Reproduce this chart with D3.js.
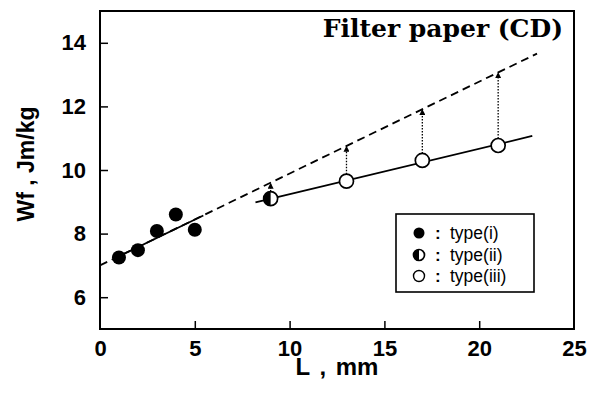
<!DOCTYPE html>
<html lang="en">
<head>
  <meta charset="UTF-8">
  <title>Wf vs L</title>
  <style>
    body { margin: 0; background: #fff; }
    text { fill: #000; }
  </style>
</head>
<body>
  <div class="chart"></div>
  <script src="https://cdnjs.cloudflare.com/ajax/libs/d3/7.8.5/d3.min.js"></script>
  <script>
    // data
    const typeI_L = [1, 2, 3, 4, 5];
    const typeI_Wf = [7.25, 7.48, 8.08, 8.6, 8.12];
    const typeII_L = [9];
    const typeII_Wf = [9.1];
    const typeIII_L = [13, 17, 21];
    const typeIII_Wf = [9.65, 10.3, 10.77];

    // fitted lines (end points)
    const fitDashed = [[0, 7.0], [23.05, 13.66]];
    const fitSolidLow = [[0.8, 7.23], [5.45, 8.57]];
    const fitSolidHigh = [[8.2, 8.98], [22.8, 11.07]];

    // arrows: from the open circle up to the dashed line
    const arrowL = [9, 13, 17, 21];
    const arrowFrom = [9.1, 9.65, 10.3, 10.77];
    const arrowTo = [9.6, 10.76, 11.92, 13.08];

    const xTicks = [0, 5, 10, 15, 20, 25];
    const yTicks = [6, 8, 10, 12, 14];
    const legendLabels = ['type(i)', 'type(ii)', 'type(iii)'];

    const width = 605, height = 407;
    const margin = { top: 11, right: 31, bottom: 78, left: 100 };

    const x = d3.scaleLinear().domain([0, 25]).range([margin.left, width - margin.right]);
    const y = d3.scaleLinear().domain([5, 15]).range([height - margin.bottom, margin.top]);

    const svg = d3.select('.chart').append('svg')
      .attr('width', width)
      .attr('height', height);

    svg.append('defs').append('marker')
      .attr('id', 'head')
      .attr('viewBox', '0 0 10 10')
      .attr('refX', 10).attr('refY', 5)
      .attr('markerWidth', 8).attr('markerHeight', 6)
      .attr('markerUnits', 'userSpaceOnUse')
      .attr('orient', 'auto')
      .append('path').attr('d', 'M0,0L10,5L0,10Z').attr('fill', '#000');

    // axes, ticks inward
    const xAxis = svg.append('g')
      .attr('transform', `translate(0,${y(5)})`)
      .call(d3.axisBottom(x).tickValues(xTicks).tickSize(-8).tickPadding(11));
    const yAxis = svg.append('g')
      .attr('transform', `translate(${x(0)},0)`)
      .call(d3.axisLeft(y).tickValues(yTicks).tickSize(-8).tickPadding(14));

    [xAxis, yAxis].forEach(g => {
      g.select('.domain').remove();
      g.selectAll('line').attr('stroke', '#000').attr('stroke-width', 1.5);
      g.selectAll('text')
        .attr('font-family', 'Liberation Sans, Arial, sans-serif')
        .attr('font-weight', 'bold')
        .attr('font-size', 22);
    });
    xAxis.selectAll('.tick').filter(d => d === 0 || d === 25).select('line').remove();

    // frame
    svg.append('rect')
      .attr('x', x(0)).attr('y', y(15))
      .attr('width', x(25) - x(0)).attr('height', y(5) - y(15))
      .attr('fill', 'none').attr('stroke', '#000').attr('stroke-width', 2);

    const line = d3.line().x(d => x(d[0])).y(d => y(d[1]));

    svg.append('path').datum(fitDashed).attr('d', line)
      .attr('fill', 'none').attr('stroke', '#000').attr('stroke-width', 1.8)
      .attr('stroke-dasharray', '8,5');
    svg.append('path').datum(fitSolidLow).attr('d', line)
      .attr('fill', 'none').attr('stroke', '#000').attr('stroke-width', 1.8);
    svg.append('path').datum(fitSolidHigh).attr('d', line)
      .attr('fill', 'none').attr('stroke', '#000').attr('stroke-width', 1.8);

    // dotted arrows
    svg.selectAll('.arrow').data(arrowL).join('line')
      .attr('class', 'arrow')
      .attr('x1', d => x(d)).attr('x2', d => x(d))
      .attr('y1', (d, i) => y(arrowFrom[i]) - 7)
      .attr('y2', (d, i) => y(arrowTo[i]))
      .attr('stroke', '#000').attr('stroke-width', 1.3)
      .attr('stroke-dasharray', '1.5,1.5')
      .attr('marker-end', 'url(#head)');

    const r = 7;
    // type(i)
    svg.selectAll('.t1').data(typeI_L).join('circle')
      .attr('class', 't1')
      .attr('cx', d => x(d)).attr('cy', (d, i) => y(typeI_Wf[i]))
      .attr('r', r).attr('fill', '#000');

    // half-filled marker
    function halfCircle(g, cx, cy, rr) {
      g.append('circle').attr('cx', cx).attr('cy', cy).attr('r', rr)
        .attr('fill', '#fff').attr('stroke', '#000').attr('stroke-width', 1.7);
      g.append('path')
        .attr('d', `M${cx},${cy - rr}A${rr},${rr} 0 0 0 ${cx},${cy + rr}Z`)
        .attr('fill', '#000');
    }
    typeII_L.forEach((d, i) => halfCircle(svg, x(d), y(typeII_Wf[i]), r));

    // type(iii)
    svg.selectAll('.t3').data(typeIII_L).join('circle')
      .attr('class', 't3')
      .attr('cx', d => x(d)).attr('cy', (d, i) => y(typeIII_Wf[i]))
      .attr('r', r).attr('fill', '#fff').attr('stroke', '#000').attr('stroke-width', 1.7);

    // title
    svg.append('text')
      .attr('x', 563).attr('y', 37)
      .attr('text-anchor', 'end')
      .attr('font-family', 'DejaVu Serif, serif')
      .attr('font-weight', 'bold')
      .attr('font-size', 25)
      .text('Filter paper (CD)');

    // axis titles
    svg.append('text')
      .attr('x', (x(0) + x(25)) / 2).attr('y', 375)
      .attr('text-anchor', 'middle')
      .attr('font-family', 'Liberation Sans, Arial, sans-serif')
      .attr('font-weight', 'bold').attr('font-size', 24)
      .attr('word-spacing', 3)
      .text('L , mm');
    svg.append('text')
      .attr('transform', 'translate(34,164) rotate(-90)')
      .attr('text-anchor', 'middle')
      .attr('font-family', 'Liberation Sans, Arial, sans-serif')
      .attr('font-weight', 'bold').attr('font-size', 23)
      .text('Wf , Jm/kg');

    // legend
    const lg = svg.append('g');
    lg.append('rect')
      .attr('x', 396).attr('y', 214).attr('width', 138).attr('height', 78)
      .attr('fill', '#fff').attr('stroke', '#000').attr('stroke-width', 1.6);
    const rowY = [233, 255, 276];
    const lr = 5.5;
    lg.append('circle').attr('cx', 419).attr('cy', rowY[0]).attr('r', lr).attr('fill', '#000');
    halfCircle(lg, 419, rowY[1], lr);
    lg.append('circle').attr('cx', 419).attr('cy', rowY[2]).attr('r', lr)
      .attr('fill', '#fff').attr('stroke', '#000').attr('stroke-width', 1.4);
    legendLabels.forEach((t, i) => {
      lg.append('text').attr('x', 435).attr('y', rowY[i] + 6)
        .attr('font-family', 'Liberation Sans, Arial, sans-serif')
        .attr('font-weight', 'bold')
        .attr('font-size', 17).text(':');
      lg.append('text').attr('x', 450).attr('y', rowY[i] + 6)
        .attr('font-family', 'Liberation Sans, Arial, sans-serif')
        .attr('font-size', 17.5).text(t);
    });
  </script>
</body>
</html>
